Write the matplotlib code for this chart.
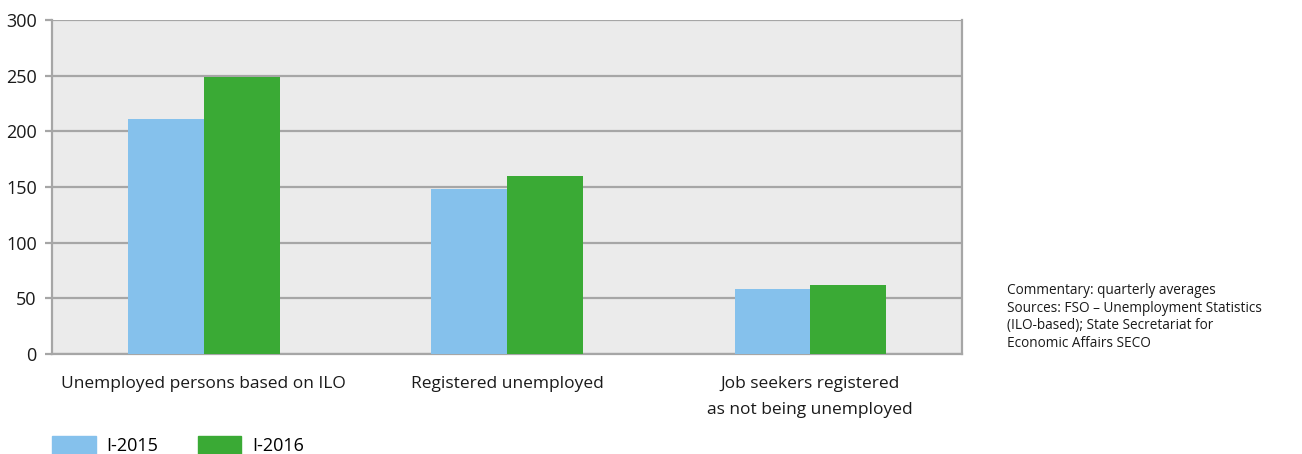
import numpy as np
import matplotlib.pyplot as plt
from matplotlib.patches import Patch

plt.rcParams['font.family'] = ['Open Sans', 'DejaVu Sans']

# Arbeitslose nach Definition, Quartalsmittel (in Tausend)
kategorien = ['Unemployed persons based on ILO', 'Registered unemployed',
              'Job seekers registered\nas not being unemployed']
werte_2015 = [211, 148, 58]
werte_2016 = [249, 160, 62]
serien = ['I-2015', 'I-2016']
farben = ['#85c1ec', '#3aaa35']
notiz = ('Commentary: quarterly averages\n'
         'Sources: FSO – Unemployment Statistics\n'
         '(ILO-based); State Secretariat for\n'
         'Economic Affairs SECO')

fig = plt.figure(figsize=(13.02, 4.54), dpi=100)
ax = fig.add_axes([52 / 1302, 1 - 354 / 454, 910 / 1302, 334 / 454])

x = np.arange(len(kategorien))
b = 0.25
ax.bar(x - b / 2, werte_2015, b, color=farben[0], zorder=3)
ax.bar(x + b / 2, werte_2016, b, color=farben[1], zorder=3)

ax.set_facecolor('#ebebeb')
ax.set_xlim(-0.5, 2.5)
ax.set_ylim(0, 300)
ax.set_yticks(range(0, 301, 50))
ax.yaxis.grid(True, color='#a6a6a6', linewidth=1.6, zorder=1)
ax.set_axisbelow(True)
for s in ax.spines.values():
    s.set_color('#a6a6a6')
    s.set_linewidth(1.6)
ax.spines['top'].set_visible(False)

ax.tick_params(axis='y', length=5, width=1.6, color='#a6a6a6', labelsize=13,
               pad=6, labelcolor='#1a1a1a')
ax.set_xticks(x)
ax.set_xticklabels(kategorien, fontsize=12.5, color='#1a1a1a', linespacing=1.8)
ax.tick_params(axis='x', length=0, pad=16)

handles = [Patch(color=c) for c in farben]
fig.legend(handles, serien, loc='upper left', bbox_to_anchor=(45 / 1302, 1 - 429 / 454),
           ncol=2, frameon=False, fontsize=13, handlelength=2.4, handleheight=1.1,
           handletextpad=0.6, columnspacing=2.2, borderaxespad=0)

fig.text(1007 / 1302, 1 - 283 / 454, notiz, fontsize=9.8, va='top', ha='left',
         color='#1a1a1a', linespacing=1.25)

fig.savefig('out.png', dpi=100)
